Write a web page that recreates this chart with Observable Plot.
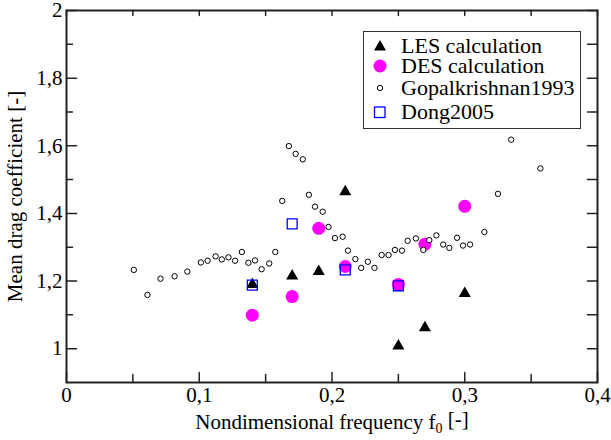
<!DOCTYPE html>
<html>
<head>
<meta charset="utf-8">
<script src="https://cdn.jsdelivr.net/npm/d3@7"></script>
<script src="https://cdn.jsdelivr.net/npm/@observablehq/plot@0.6"></script>
<style>
  html, body { margin: 0; padding: 0; background: #fff; }
  #wrap { position: relative; width: 611px; height: 440px; font-family: "Liberation Serif", "Times New Roman", serif; }
  #legend { position: absolute; left: 363px; top: 31px; width: 216px; height: 96px; border: 1px solid #333; background: #fff; box-sizing: content-box; }
  #legend svg { position: absolute; left: 0; top: 0; }
</style>
</head>
<body>
<div id="wrap"></div>
<script>
// Gopalkrishnan 1993
const gopalX = [0.0507,0.061,0.0708,0.0814,0.091,0.1012,0.1063,0.1123,0.117,0.122,0.127,0.1321,0.137,0.142,0.147,0.1527,0.1573,0.1625,0.1675,0.1726,0.178,0.1826,0.1872,0.193,0.1974,0.2022,0.208,0.212,0.2176,0.222,0.227,0.232,0.2374,0.2426,0.2474,0.2527,0.257,0.2632,0.2688,0.2733,0.2786,0.2838,0.2884,0.2942,0.2987,0.304,0.3148,0.325,0.335,0.357];
const gopalY = [1.233,1.159,1.207,1.214,1.228,1.255,1.260,1.273,1.264,1.270,1.260,1.286,1.254,1.261,1.235,1.252,1.286,1.437,1.599,1.576,1.560,1.455,1.420,1.405,1.360,1.327,1.331,1.290,1.265,1.239,1.257,1.239,1.277,1.277,1.292,1.290,1.319,1.326,1.292,1.321,1.335,1.308,1.298,1.328,1.305,1.308,1.345,1.458,1.618,1.533];
// LES calculation
const lesX = [0.14,0.17,0.19,0.21,0.25,0.27,0.30];
const lesY = [1.19,1.215,1.228,1.464,1.008,1.062,1.163];
// DES calculation
const desX = [0.14,0.17,0.19,0.21,0.25,0.27,0.30];
const desY = [1.099,1.154,1.356,1.243,1.19,1.309,1.421];
// Dong 2005
const dongX = [0.14,0.17,0.21,0.25];
const dongY = [1.188,1.369,1.233,1.186];
// ticks
const xMajor = [0,0.1,0.2,0.3,0.4];
const xMinor = [0.05,0.15,0.25,0.35];
const yMajor = [1,1.2,1.4,1.6,1.8,2];
const yMinor = [1.1,1.3,1.5,1.7,1.9];
const seriesNames = ["LES calculation","DES calculation","Gopalkrishnan1993","Dong2005"];
const xLabel = "Nondimensional frequency f0 [-]";
const yLabel = "Mean drag coefficient [-]";

const zip = (xs, ys) => xs.map((x, i) => ({x, y: ys[i]}));
const les = zip(lesX, lesY), des = zip(desX, desY), gopal = zip(gopalX, gopalY), dong = zip(dongX, dongY);
const fmt = d => (d === 0 ? "0" : String(+d.toFixed(2)).replace(".", ","));
const tickShape = {draw(ctx, l) { ctx.moveTo(0, 0); ctx.lineTo(0, -l); }};
const tk = (data, dim, anchor, rotate, length) => Plot.vector(data, {
  [dim]: d => d, frameAnchor: anchor, rotate, length, anchor: "start", shape: tickShape,
  stroke: "#222", strokeWidth: 1.5
});

const chart = Plot.plot({
  width: 611, height: 440,
  marginLeft: 66, marginRight: 14, marginTop: 10, marginBottom: 58,
  style: {fontFamily: "'Liberation Serif', 'Times New Roman', serif", fontSize: "21px", color: "#000", background: "#fff", overflow: "visible"},
  x: {domain: [0, 0.4]},
  y: {domain: [0.9, 2]},
  marks: [
    Plot.axisX(xMajor, {tickSize: 0, tickPadding: 5, tickFormat: fmt, label: xLabel, labelAnchor: "center", labelOffset: 46, labelArrow: false}),
    Plot.axisY(yMajor, {tickSize: 0, tickPadding: 4, tickFormat: fmt, label: yLabel, labelAnchor: "center", labelOffset: 59, labelArrow: false}),
    tk(yMajor, "y", "left", 90, 10),
    tk(yMinor, "y", "left", 90, 6),
    tk(yMajor, "y", "right", -90, 10),
    tk(yMinor, "y", "right", -90, 10),
    tk(xMajor, "x", "bottom", 0, 10),
    tk(xMinor, "x", "bottom", 0, 8),
    tk(xMajor, "x", "top", 180, 5),
    tk(xMinor, "x", "top", 180, 5),
    Plot.dot(des, {x: "x", y: "y", r: 6.5, fill: "#ff00ff", stroke: "none"}),
    Plot.dot(gopal, {x: "x", y: "y", r: 2.7, fill: "#fff", stroke: "#000", strokeWidth: 1}),
    Plot.dot(les, {x: "x", y: "y", symbol: "triangle", r: 4.5, fill: "#000", stroke: "none"}),
    Plot.dot(dong, {x: "x", y: "y", symbol: "square", r: 5.6, fill: "none", stroke: "#0000ff", strokeWidth: 1.3}),
    Plot.frame({stroke: "#222", strokeWidth: 2})
  ]
});

// subscript in x label
const ns = "http://www.w3.org/2000/svg";
const xl = chart.querySelector('g[aria-label="x-axis label"] text');
if (xl) {
  const parts = xLabel.split("f0");
  xl.textContent = "";
  const t1 = document.createElementNS(ns, "tspan"); t1.textContent = parts[0] + "f";
  const t2 = document.createElementNS(ns, "tspan"); t2.textContent = "0"; t2.setAttribute("dy", "0.3em"); t2.setAttribute("font-size", "14px");
  const t3 = document.createElementNS(ns, "tspan"); t3.textContent = parts[1]; t3.setAttribute("dy", "-0.3em");
  xl.append(t1, t2, t3);
}

const wrap = document.getElementById("wrap");
wrap.appendChild(chart);

// legend (one SVG, one text element with a line per series)
const rowCenters = [14, 34, 56, 80];
const leg = document.createElement("div");
leg.id = "legend";
const lsvg = document.createElementNS(ns, "svg");
lsvg.setAttribute("width", 216); lsvg.setAttribute("height", 96);
const symMarkup = [
  cy => `<path d="M16,${cy - 6} L22,${cy + 4.5} L10,${cy + 4.5} Z" fill="#000"/>`,
  cy => `<circle cx="16" cy="${cy}" r="6.5" fill="#ff00ff"/>`,
  cy => `<circle cx="16" cy="${cy}" r="2.7" fill="#fff" stroke="#000"/>`,
  cy => `<rect x="10.5" y="${cy - 5}" width="10.5" height="10.5" fill="none" stroke="#0000ff" stroke-width="1.3"/>`
];
lsvg.innerHTML = symMarkup.map((f, i) => f(rowCenters[i])).join("");
const txt = document.createElementNS(ns, "text");
txt.setAttribute("font-family", "'Liberation Serif', 'Times New Roman', serif");
txt.setAttribute("font-size", "22");
txt.setAttribute("fill", "#000");
seriesNames.forEach((name, i) => {
  const ts = document.createElementNS(ns, "tspan");
  ts.setAttribute("x", 37);
  ts.setAttribute("y", rowCenters[i] + 7);
  ts.textContent = name;
  txt.appendChild(ts);
});
lsvg.appendChild(txt);
leg.appendChild(lsvg);
wrap.appendChild(leg);
</script>
</body>
</html>
